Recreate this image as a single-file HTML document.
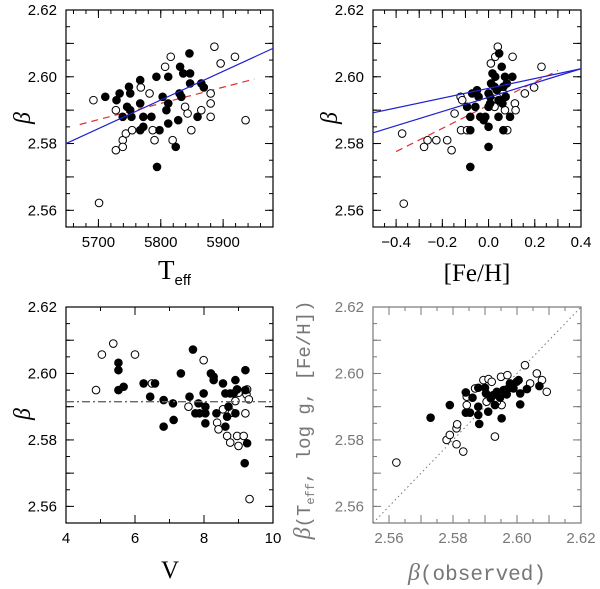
<!DOCTYPE html>
<html><head><meta charset="utf-8">
<style>
html,body{margin:0;padding:0;background:#fff;}
svg{display:block;}
</style></head>
<body>
<svg id="fig" width="600" height="589" viewBox="0 0 600 589" xmlns="http://www.w3.org/2000/svg" style="font-family:'Liberation Sans',sans-serif"></svg>
<script>
// ---- Panel 1: Teff vs beta ----
const p1OpenT=[5692,5701,5728,5728,5739,5739,5744,5754,5768,5782,5787,5790,5807,5816,5819,5839,5843,5849,5865,5880,5880,5880,5886,5896,5919,5936];
const p1OpenB=[2.593,2.5622,2.590,2.578,2.581,2.579,2.583,2.584,2.5968,2.595,2.584,2.581,2.603,2.606,2.581,2.591,2.589,2.584,2.590,2.595,2.592,2.588,2.609,2.604,2.606,2.587];
const p1FillT=[5711,5729,5734,5739,5746,5749,5751,5753,5751,5767,5767,5767,5772,5772,5785,5793,5798,5794,5803,5809,5812,5812,5812,5828,5831,5830,5833,5836,5847,5847,5846,5859,5865,5869,5824];
const p1FillB=[2.594,2.593,2.595,2.588,2.591,2.597,2.595,2.588,2.590,2.599,2.592,2.584,2.588,2.585,2.588,2.600,2.584,2.573,2.594,2.590,2.592,2.600,2.586,2.587,2.603,2.595,2.594,2.601,2.601,2.598,2.607,2.588,2.598,2.5968,2.579];
const p1Blue=[[5648,2.580],[5980,2.6085]];
const p1Red=[[5670,2.5857],[5950,2.5993]];
const p1XTicks=[5700,5800,5900];
// ---- Panel 2: [Fe/H] vs beta ----
const p2OpenF=[-0.374,-0.367,-0.279,-0.264,-0.226,-0.179,-0.160,-0.147,-0.121,-0.114,-0.119,-0.093,0.010,0.014,0.026,0.029,0.040,0.064,0.071,0.081,0.104,0.114,0.117,0.157,0.197,0.229];
const p2OpenB=[2.583,2.562,2.579,2.581,2.581,2.581,2.578,2.589,2.594,2.593,2.584,2.584,2.604,2.593,2.591,2.606,2.609,2.595,2.590,2.584,2.606,2.592,2.590,2.595,2.5968,2.603];
const p2FillF=[-0.093,-0.079,-0.079,-0.079,-0.071,-0.050,-0.043,-0.057,-0.036,-0.021,-0.014,0.000,0.000,0.000,0.007,0.000,0.011,0.017,0.029,0.026,0.043,0.043,0.046,0.057,0.071,0.064,0.079,0.060,0.074,0.064,0.093,0.103,0.007,0.036];
const p2FillB=[2.591,2.588,2.584,2.573,2.595,2.596,2.594,2.591,2.588,2.587,2.588,2.579,2.585,2.591,2.594,2.595,2.598,2.601,2.600,2.597,2.593,2.588,2.607,2.603,2.600,2.597,2.598,2.592,2.594,2.584,2.588,2.600,2.592,2.596];
const p2Blue1=[[-0.5,2.5892],[0.4,2.6024]];
const p2Blue2=[[-0.5,2.5832],[0.4,2.6024]];
const p2Red=[[-0.4,2.5776],[0.3,2.6019]];
const p2XTicks=[-0.4,-0.2,0.0,0.2,0.4];
const p2XLabels=["\u22120.4","\u22120.2","0.0","0.2","0.4"];
// ---- Panel 3: V vs beta ----
const p3OpenV=[4.87,5.04,5.37,6.00,6.49,7.55,7.99,8.38,8.42,8.55,8.67,8.76,8.96,9.00,9.15,9.20,9.23,9.25,9.30,9.32,8.81,8.91,8.96,9.00];
const p3OpenB=[2.595,2.6057,2.609,2.6057,2.597,2.590,2.604,2.5852,2.5832,2.5892,2.5812,2.5792,2.5812,2.5782,2.5812,2.588,2.5937,2.5952,2.5922,2.5622,2.5882,2.5917,2.5952,2.5942];
const p3FillV=[5.52,5.52,5.52,5.67,6.25,6.44,6.58,6.83,6.83,7.10,7.12,7.33,7.58,7.68,7.75,7.84,7.87,7.99,8.04,8.04,8.04,8.20,8.28,8.28,8.36,8.55,8.62,8.62,8.67,8.71,8.76,8.91,8.86,8.91,8.96,9.20,9.20,9.25,9.18];
const p3FillB=[2.6032,2.601,2.595,2.596,2.597,2.593,2.597,2.592,2.584,2.591,2.586,2.600,2.593,2.6072,2.588,2.591,2.588,2.594,2.590,2.588,2.585,2.600,2.599,2.598,2.588,2.597,2.594,2.584,2.587,2.590,2.594,2.598,2.594,2.588,2.5952,2.601,2.595,2.579,2.573];
const p3Mean=[2.5915];
const p3XTicks=[4,6,8,10];
// ---- Panel 4: observed vs fitted ----
const p4OpenX=[2.5623,2.578,2.579,2.5811,2.5811,2.5813,2.5832,2.5843,2.5843,2.5869,2.5895,2.5911,2.5921,2.5931,2.595,2.5952,2.597,2.6025,2.6041,2.6062,2.6078,2.6093,2.5905,2.5937];
const p4OpenY=[2.5732,2.580,2.5815,2.5787,2.5835,2.5847,2.5765,2.5905,2.593,2.5955,2.598,2.5983,2.5975,2.581,2.599,2.5905,2.5995,2.6025,2.597,2.600,2.598,2.5945,2.5915,2.5915];
const p4FillX=[2.573,2.579,2.584,2.584,2.5853,2.5861,2.5879,2.5879,2.5879,2.5882,2.590,2.5903,2.591,2.5918,2.5926,2.5931,2.5937,2.5947,2.5952,2.5958,2.5968,2.5973,2.5978,2.5989,2.5999,2.6005,2.601,2.601,2.6031,2.607];
const p4FillY=[2.5867,2.5905,2.5943,2.5882,2.5882,2.5927,2.5957,2.590,2.5875,2.5848,2.5957,2.594,2.5885,2.5925,2.5935,2.5905,2.5945,2.5927,2.5865,2.595,2.5937,2.5955,2.597,2.5955,2.5975,2.598,2.594,2.5907,2.5953,2.5962];
const p4Ticks=[2.56,2.58,2.60,2.62];
const betaTicks=[2.56,2.58,2.60,2.62];

const NS="http://www.w3.org/2000/svg";
const svg=document.getElementById('fig');
function mk(tag,attrs,parent){const e=document.createElementNS(NS,tag);for(const k in attrs)e.setAttribute(k,attrs[k]);(parent||svg).appendChild(e);return e;}
function lin(d0,d1,r0,r1){return v=>r0+(v-d0)*(r1-r0)/(d1-d0);}

function mkPanel(name,L,T,R,B,xd,yd,col){
  const g=mk('g',{});
  
  
  const P={g,x:lin(xd[0],xd[1],L,R),y:lin(yd[0],yd[1],B,T),L,T,R,B,col,xd0:xd[0],xd1:xd[1],yd0:yd[0],yd1:yd[1]};
  const fr=mk('rect',{x:L,y:T,width:R-L,height:B-T,fill:'none',stroke:col,'stroke-width':1.2},g);
  
  
  return P;
}
function ticks(P,xMajor,xMinor,yMajor,yMinor){
  const g=mk('g',{},P.g);
  
  
  for(const [step,len] of [[xMajor,8],[xMinor,4]]){
    for(let v=Math.ceil(P.xd0/step-1e-6)*step;v<=P.xd1+1e-9;v+=step){
      const px=P.x(v); if(px<P.L+0.5||px>P.R-0.5)continue;
      mk('line',{x1:px,x2:px,y1:P.B,y2:P.B-len,stroke:P.col,'stroke-width':1},g);
      mk('line',{x1:px,x2:px,y1:P.T,y2:P.T+len,stroke:P.col,'stroke-width':1},g);
    }
  }
  for(const [step,len] of [[yMajor,8],[yMinor,4]]){
    for(let v=Math.ceil(P.yd0/step-1e-6)*step;v<=P.yd1+1e-9;v+=step){
      const py=P.y(v); if(py<P.T+0.5||py>P.B-0.5)continue;
      mk('line',{x1:P.L,x2:P.L+len,y1:py,y2:py,stroke:P.col,'stroke-width':1},g);
      mk('line',{x1:P.R,x2:P.R-len,y1:py,y2:py,stroke:P.col,'stroke-width':1},g);
    }
  }
}
function tickLabels(P,xv,xl,yv,col){
  const g=mk('g',{},P.g);
  
  
  xv.forEach((v,i)=>{const t=mk('text',{x:P.x(v),y:P.B+20,'font-size':15,'text-anchor':'middle',fill:col},g);t.textContent=xl[i];});
  yv.forEach(v=>{const t=mk('text',{x:P.L-9,y:P.y(v)+5,'font-size':15,'text-anchor':'end',fill:col},g);t.textContent=v.toFixed(2);});
}
function points(P,xs,ys,filled,name){
  const g=mk('g',{},P.g);
  
  
  xs.forEach((v,i)=>{
    const c=mk('circle',{cx:P.x(v),cy:P.y(ys[i]),r:3.8,fill:filled?'#000':'#fff',stroke:'#000','stroke-width':1},g);
    
    
  });
}
function line(P,pts,color,dash,name,w){
  const l=mk('line',{x1:P.x(pts[0][0]),y1:P.y(pts[0][1]),x2:P.x(pts[1][0]),y2:P.y(pts[1][1]),stroke:color,'stroke-width':w||1.2,'stroke-dasharray':dash||'none'},P.g);
  
  
}

const P1=mkPanel('panel-teff',66,10,273,227,[5648,5980],[2.555,2.62],'#000');
ticks(P1,100,20,0.01,0.005);
tickLabels(P1,p1XTicks,p1XTicks.map(String),betaTicks,'#000');
line(P1,p1Red,'#e03030','7,5','red-dashed-fit');
points(P1,p1OpenT,p1OpenB,false,'open-points');
points(P1,p1FillT,p1FillB,true,'filled-points');
line(P1,p1Blue,'#2020d0',null,'blue-fit');

const P2=mkPanel('panel-feh',373,10,581,227,[-0.5,0.4],[2.555,2.62],'#000');
ticks(P2,0.1,0.05,0.01,0.005);
tickLabels(P2,p2XTicks,p2XLabels,betaTicks,'#000');
line(P2,p2Red,'#e03030','7,5','red-dashed-fit');
points(P2,p2OpenF,p2OpenB,false,'open-points');
points(P2,p2FillF,p2FillB,true,'filled-points');
line(P2,p2Blue1,'#2020d0',null,'blue-fit-1');
line(P2,p2Blue2,'#2020d0',null,'blue-fit-2');

const P3=mkPanel('panel-v',66,307,273,523,[4,10],[2.555,2.62],'#000');
ticks(P3,2,1,0.01,0.005);
tickLabels(P3,p3XTicks,p3XTicks.map(String),betaTicks,'#000');
points(P3,p3OpenV,p3OpenB,false,'open-points');
points(P3,p3FillV,p3FillB,true,'filled-points');
line(P3,[[4,p3Mean[0]],[10,p3Mean[0]]],'#666','8,3,2,3','mean-line',1.3);

const P4=mkPanel('panel-observed',373,307,581,523,[2.555,2.62],[2.555,2.62],'#777');
ticks(P4,0.01,0.005,0.01,0.005);
tickLabels(P4,p4Ticks,p4Ticks.map(v=>v.toFixed(2)),p4Ticks,'#777');
line(P4,[[2.555,2.555],[2.62,2.62]],'#777','1.5,3','one-to-one-line',1);
points(P4,p4OpenX,p4OpenY,false,'open-points');
points(P4,p4FillX,p4FillY,true,'filled-points');
</script>
<svg style="position:absolute;left:0;top:0" width="600" height="589">
  <text style="font-family:'Liberation Serif',serif;font-style:italic;font-size:24px" transform="translate(30,118) rotate(-90)" text-anchor="middle">β</text>
  <text style="font-family:'Liberation Serif',serif;font-style:italic;font-size:24px" transform="translate(337,118) rotate(-90)" text-anchor="middle">β</text>
  <text style="font-family:'Liberation Serif',serif;font-style:italic;font-size:24px" transform="translate(30,414) rotate(-90)" text-anchor="middle">β</text>
  <text x="158" y="279" style="font-family:'Liberation Serif',serif;font-size:27px">T<tspan style="font-family:'Liberation Sans',sans-serif;font-size:15px" dy="6">eff</tspan></text>
  <text x="477" y="281" style="font-family:'Liberation Serif',serif;font-size:25px" text-anchor="middle">[Fe/H]</text>
  <text x="170" y="578" style="font-family:'Liberation Serif',serif;font-size:25px" text-anchor="middle">V</text>
  <text x="477" y="580" style="font-family:'Liberation Mono',monospace;font-size:21px" fill="#777" text-anchor="middle"><tspan style="font-family:'Liberation Serif',serif;font-style:italic;font-size:24px">β</tspan>(observed)</text>
  <text transform="translate(310,420) rotate(-90)" style="font-family:'Liberation Mono',monospace;font-size:19px" fill="#777" text-anchor="middle"><tspan style="font-family:'Liberation Serif',serif;font-style:italic;font-size:24px">β</tspan>(T<tspan style="font-size:12px" dy="4">eff</tspan><tspan dy="-4">, log g, [Fe/H])</tspan></text>
</svg>
</body></html>
